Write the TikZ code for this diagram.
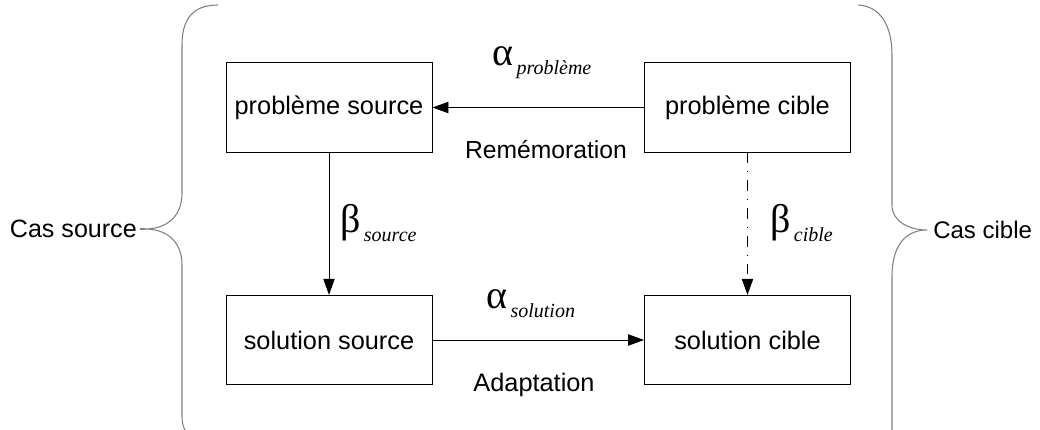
\documentclass[tikz,border=0pt]{standalone}
\usepackage{fontspec}
\setmainfont{Liberation Sans}
\newfontfamily\serifgr{Liberation Serif}
\usetikzlibrary{arrows.meta}
\newcommand\mygreek[2]{{\serifgr\fontsize{30}{30}\selectfont #1}\kern2.5pt\raisebox{-7pt}{\serifgr\itshape\fontsize{15}{15}\selectfont #2}}
\begin{document}
\begin{tikzpicture}[x=0.75pt,y=-0.75pt,
  box/.style={draw, line width=0.7pt, minimum width=154.5pt, minimum height=67pt, inner sep=0pt, font=\fontsize{19}{19}\selectfont},
  lbl/.style={inner sep=0pt, font=\fontsize{18.5}{18.5}\selectfont},
  grk/.style={inner sep=0pt, anchor=base west},
  conn/.style={line width=0.7pt, -{Triangle[length=12pt,width=8.5pt]}},
  dashdot/.style={dash pattern=on 8pt off 6pt on 0.8pt off 6pt},
  bracestyle/.style={draw=gray, line width=0.8pt},
  ]
\useasboundingbox (0,0) rectangle (1040,429);
\node[box] (ps) at (329,107.5) {problème source};
\node[box] (pc) at (747.5,107.5) {problème cible};
\node[box] (ss) at (329,340) {solution source};
\node[box] (sc) at (747.5,340) {solution cible};

\draw[conn] (pc) -- (ps);
\draw[conn] (ps) -- (ss);
\draw[conn] (ss) -- (sc);
\draw[conn, dashdot] (pc) -- (sc);

\node[grk] (ap) at (492,65) {\mygreek{α}{problème}};
\node[grk] (as) at (486,308) {\mygreek{α}{solution}};
\node[grk] (bs) at (340,232) {\mygreek{β}{source}};
\node[grk] (bc) at (770,232) {\mygreek{β}{cible}};

\node[lbl, anchor=base] (rem) at (546,158) {Remémoration};
\node[lbl, anchor=base, font=\fontsize{19}{19}\selectfont] (ada) at (534,391) {Adaptation};

% braces
\coordinate (lt) at (145,229);
\coordinate (rt) at (927,230);
\draw[bracestyle] (218,5) .. controls (192,5) and (182,20) .. (182,45) -- (182,193)
  .. controls (182,218) and (165,229) .. (lt)
  .. controls (165,229) and (182,240) .. (182,265) -- (182,415)
  .. controls (182,423) and (183,427) .. (186,432);
\draw[bracestyle] (858,5) .. controls (880,6) and (892,25) .. (892,55) -- (892,205)
  .. controls (892,222) and (910,230) .. (rt)
  .. controls (910,230) and (892,240) .. (892,277) -- (892,432);

\node[lbl, anchor=base east, font=\fontsize{18.8}{18.8}\selectfont] (cs) at (137,237) {Cas source};
\node[lbl, anchor=base west, font=\fontsize{18}{18}\selectfont] (cc) at (933,238) {Cas cible};
\draw[bracestyle] (cs.east |- lt) ++(3,0) -- (lt);
\end{tikzpicture}
\end{document}
